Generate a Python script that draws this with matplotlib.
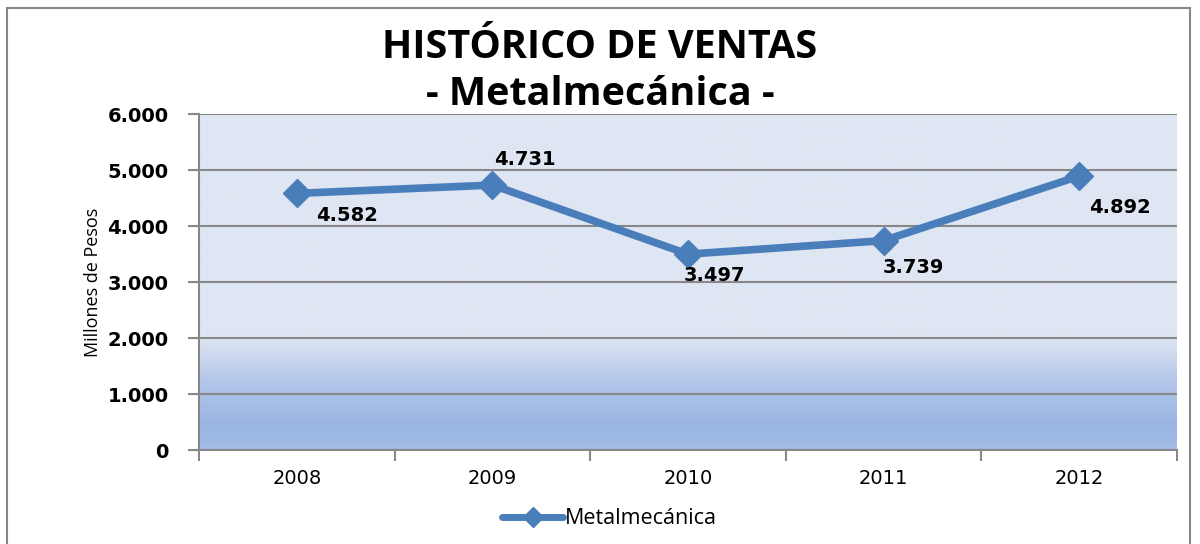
import matplotlib
matplotlib.use("Agg")
import matplotlib.pyplot as plt
import numpy as np
from matplotlib.colors import LinearSegmentedColormap
from matplotlib.patches import Rectangle
from matplotlib.lines import Line2D

years = ["2008", "2009", "2010", "2011", "2012"]
sales = [4582, 4731, 3497, 3739, 4892]
labels = ["4.582", "4.731", "3.497", "3.739", "4.892"]
label_offsets = [(50, -22), (32, 26), (26, -21), (30, -27), (41, -31)]
yticks = [0, 1000, 2000, 3000, 4000, 5000, 6000]
ytick_labels = ["0", "1.000", "2.000", "3.000", "4.000", "5.000", "6.000"]
series_name = "Metalmecánica"
title = "HISTÓRICO DE VENTAS\n- Metalmecánica -"

line_color = "#4A7EBB"

fig = plt.figure(figsize=(12, 5.44), dpi=100)
ax = fig.add_axes([199/1200, 1-450/544, (1177-199)/1200, (450-114)/544])

x = np.arange(len(years))
ax.set_xlim(-0.5, len(years) - 0.5)
ax.set_ylim(0, 6000)

# gradient background
cmap = LinearSegmentedColormap.from_list("bg", [
    (0.0, "#A3BDE6"), (0.07, "#9AB5E3"), (0.2, "#B2C6EA"),
    (0.3, "#D4DEF1"), (0.34, "#DFE6F3"), (1.0, "#DFE6F3")])
grad = np.linspace(0, 1, 256).reshape(-1, 1)
ax.imshow(grad, extent=[-0.5, len(years) - 0.5, 0, 6000], origin="lower",
          aspect="auto", cmap=cmap, zorder=0)

ax.set_yticks(yticks)
ax.set_yticklabels(ytick_labels, fontfamily="DejaVu Sans", fontweight="bold", fontsize=14)
ax.yaxis.grid(True, color="#888888", linewidth=1.5, zorder=1)
ax.set_axisbelow(False)

ax.set_xticks(np.arange(len(years) + 1) - 0.5)
ax.set_xticklabels([])
ax.set_xticks(x, minor=True)
ax.set_xticklabels(years, minor=True, fontfamily="DejaVu Sans", fontsize=14)
ax.tick_params(axis="x", which="major", length=8, width=1.5, color="#888888", direction="out")
ax.tick_params(axis="x", which="minor", length=0, pad=14)
ax.tick_params(axis="y", length=8, width=1.5, color="#888888", direction="out", pad=14)

for s in ["top", "right"]:
    ax.spines[s].set_visible(False)
ax.spines["left"].set_color("#888888")
ax.spines["left"].set_linewidth(1.5)
ax.spines["bottom"].set_color("#888888")
ax.spines["bottom"].set_linewidth(1.5)

ax.plot(x, sales, color=line_color, linewidth=5.5, marker="D", markersize=14,
        markerfacecolor=line_color, markeredgecolor=line_color, label=series_name,
        zorder=3, solid_capstyle="round")

for xi, yi, lab, off in zip(x, sales, labels, label_offsets):
    ax.annotate(lab, (xi, yi), xytext=off, textcoords="offset pixels",
                ha="center", va="center", fontfamily="DejaVu Sans",
                fontweight="bold", fontsize=14, color="black", zorder=4)

ax.set_ylabel("Millones de Pesos", fontfamily="Open Sans", fontsize=13, labelpad=4)

fig.text(0.5, 1-71/544, title, ha="center", va="center", fontfamily="Open Sans",
         fontweight="bold", fontsize=28.5, linespacing=1.25)

handle = Line2D([], [], color=line_color, linewidth=5, marker="D", markersize=10,
                solid_capstyle="round")
leg = fig.legend([handle], [series_name], loc="center", bbox_to_anchor=(0.508, 1-519/544),
                 frameon=False, prop={"family": "Open Sans", "size": 15.5},
                 handlelength=2.8, handletextpad=0.1)

# outer border
fig.patches.append(Rectangle((7/1200, -0.1), (1190-7)/1200, 1.1-8/544,
                             transform=fig.transFigure, fill=False,
                             edgecolor="#888888", linewidth=1.5, clip_on=False))

fig.savefig("out.png", dpi=100)
